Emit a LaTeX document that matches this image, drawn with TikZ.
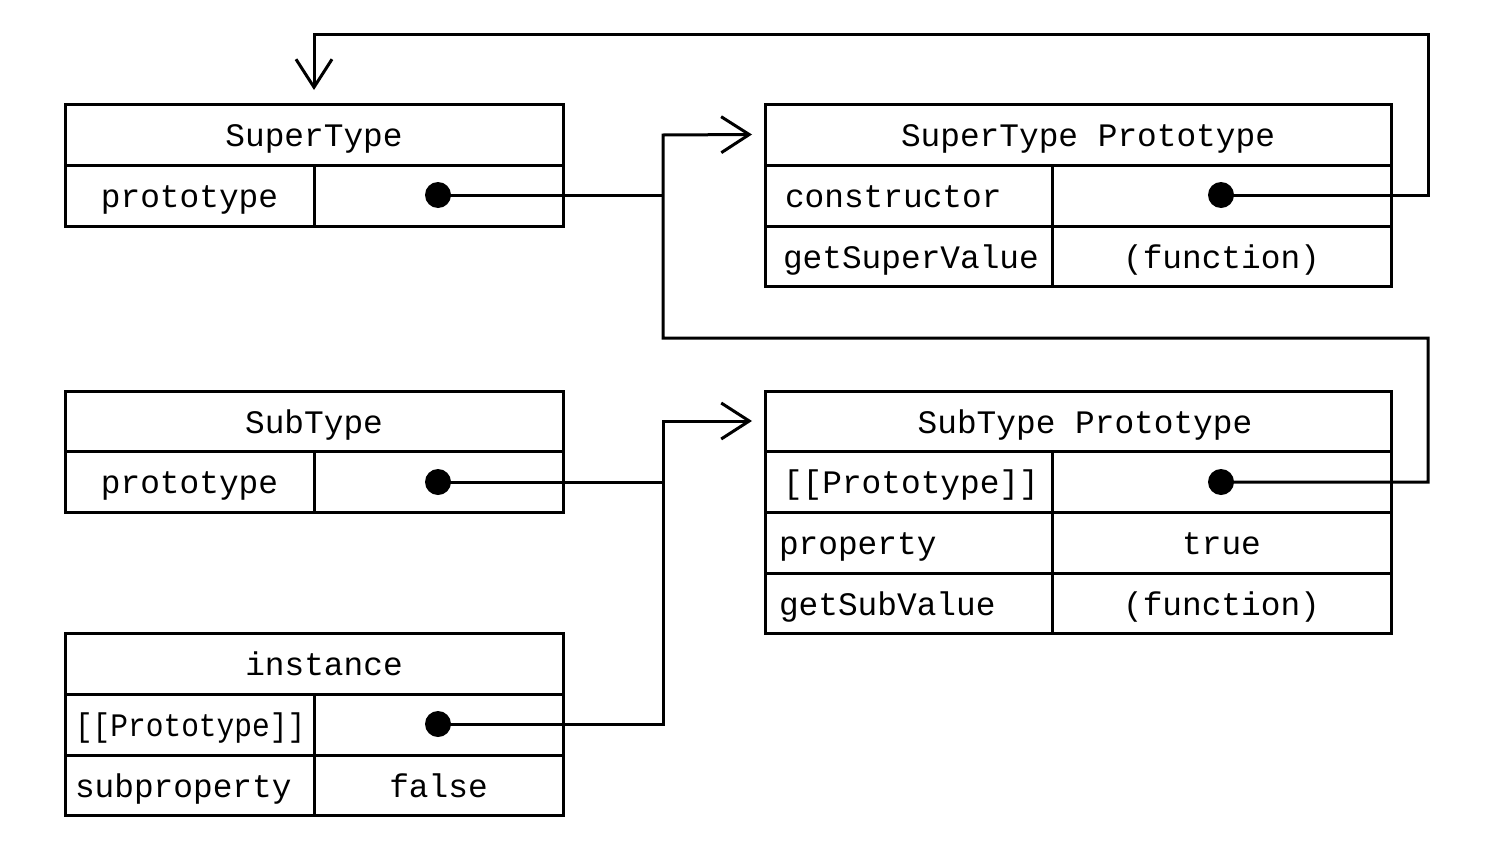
\documentclass[tikz,border=0pt]{standalone}
\usepackage{fontspec}
\setmonofont{Liberation Mono}
\usetikzlibrary{arrows.meta}
\newcommand{\monosp}{\makebox[0.6em]{}}
\begin{document}
\begin{tikzpicture}[x=0.5pt,y=-0.5pt,
  base/.style={draw, line width=1.5pt, anchor=north west, inner sep=0pt, outer sep=0pt,
    text height=12pt, text depth=0pt,
    font=\ttfamily\fontsize{16.4}{19}\selectfont},
  cc/.style n args={2}{base, text width=#1*0.5pt, minimum height=#2*0.5pt, align=center},
  cl/.style n args={3}{base, inner xsep=#3*0.5pt, text width=#1*0.5pt-#3*1pt, minimum height=#2*0.5pt, align=left},
  dot/.style={circle, fill=black, inner sep=0pt, minimum size=13pt},
  conn/.style={line width=1.5pt},
  arr/.tip={Straight Barb[length=14pt,width=18pt]}]
\useasboundingbox (0,0) rectangle (1488,846);
% SuperType
\node[cc={498}{61}] (st) at (65,104) {SuperType};
\node[cc={249}{61}] (stpk) at (65,165) {prototype};
\node[cc={249}{61}] (stpv) at (314,165) {};
% SuperType Prototype
\node[cc={626}{61}] (spt) at (765,104) {\hspace*{10pt}SuperType\monosp Prototype};
\node[cl={287}{61}{20}] (sptck) at (765,165) {constructor};
\node[cc={339}{61}] (sptcv) at (1052,165) {};
\node[cl={287}{60}{18}] (sptgk) at (765,226) {getSuperValue};
\node[cc={339}{60}] (sptgv) at (1052,226) {(function)};
% SubType
\node[cc={498}{60}] (sb) at (65,391) {SubType};
\node[cc={249}{61}] (sbpk) at (65,451) {prototype};
\node[cc={249}{61}] (sbpv) at (314,451) {};
% SubType Prototype
\node[cc={626}{60}] (sbt) at (765,391) {\hspace*{7pt}SubType\monosp Prototype};
\node[cl={287}{61}{18}] (sbtpk) at (765,451) {[[Prototype]]};
\node[cc={339}{61}] (sbtpv) at (1052,451) {};
\node[cl={287}{61}{14}] (sbtrk) at (765,512) {property};
\node[cc={339}{61}] (sbtrv) at (1052,512) {true};
\node[cl={287}{60}{14}] (sbtfk) at (765,573) {getSubValue};
\node[cc={339}{60}] (sbtfv) at (1052,573) {(function)};
% instance
\node[cc={498}{61}] (in) at (65,633) {\hspace*{10pt}instance};
\node[cl={249}{61}{10}] (inpk) at (65,694) {\scalebox{0.9}[1]{[[Prototype]]}};
\node[cc={249}{61}] (inpv) at (314,694) {};
\node[cl={249}{60}{10}] (insk) at (65,755) {subproperty};
\node[cc={249}{60}] (insv) at (314,755) {false};
% dots
\node[dot] (d1) at (438,195) {};
\node[dot] (d2) at (438,482) {};
\node[dot] (d3) at (438,724) {};
\node[dot] (d4) at (1221,195) {};
\node[dot] (d5) at (1221,482) {};
% junction coordinates
\coordinate (j1) at (663,195);
\coordinate (j2) at (663,482);
\coordinate (b1) at (1428,338);
\coordinate (b2) at (663,135);
\coordinate (c1) at (1428,34);
\coordinate (e1) at (663,421);
% connectors
\draw[conn] (d1.center) -- (j1);
\draw[conn] (d2.center) -- (j2);
\draw[conn,-arr] (d5.center) -| (b1) -| (b2) -- ([xshift=-6.5pt]spt.west);
\draw[conn,-arr] (d4.center) -| (c1) -| ([yshift=7pt]st.north);
\draw[conn,-arr] (d3.center) -| (e1) -- ([xshift=-6.5pt]sbt.west);
\end{tikzpicture}
\end{document}
